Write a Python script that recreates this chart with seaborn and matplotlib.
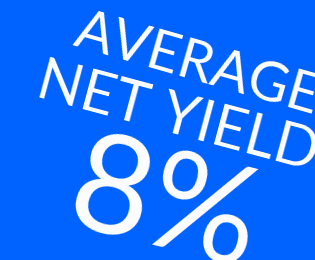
import matplotlib
matplotlib.use("Agg")
import matplotlib.pyplot as plt
import seaborn as sns

# text content of the card
title_lines = ["AVERAGE", "NET YIELD"]
yield_value = 8
yield_unit = "%"

bg_color = "#0062FF"
text_color = "white"

sns.set_theme(style="white")
plt.rcParams['font.family'] = ['Lato', 'DejaVu Sans']

fig, ax = plt.subplots(figsize=(3.15, 2.6), dpi=100)
fig.subplots_adjust(left=0, right=1, top=1, bottom=0)
fig.patch.set_facecolor(bg_color)
ax.set_facecolor(bg_color)
ax.set_xlim(0, 315)
ax.set_ylim(260, 0)
ax.axis('off')

# headline lines, tilted
ax.text(72, 45, title_lines[0], color=text_color, fontsize=40, rotation=-16,
        rotation_mode='anchor', ha='left', va='baseline')
ax.text(34, 96, title_lines[1], color=text_color, fontsize=42, rotation=-15,
        rotation_mode='anchor', ha='left', va='baseline')

# big number
ax.text(63, 224, f"{yield_value}{yield_unit}", color=text_color, fontsize=99,
        rotation=-14, rotation_mode='anchor', ha='left', va='baseline')

fig.savefig("out.png", dpi=100, facecolor=bg_color)
